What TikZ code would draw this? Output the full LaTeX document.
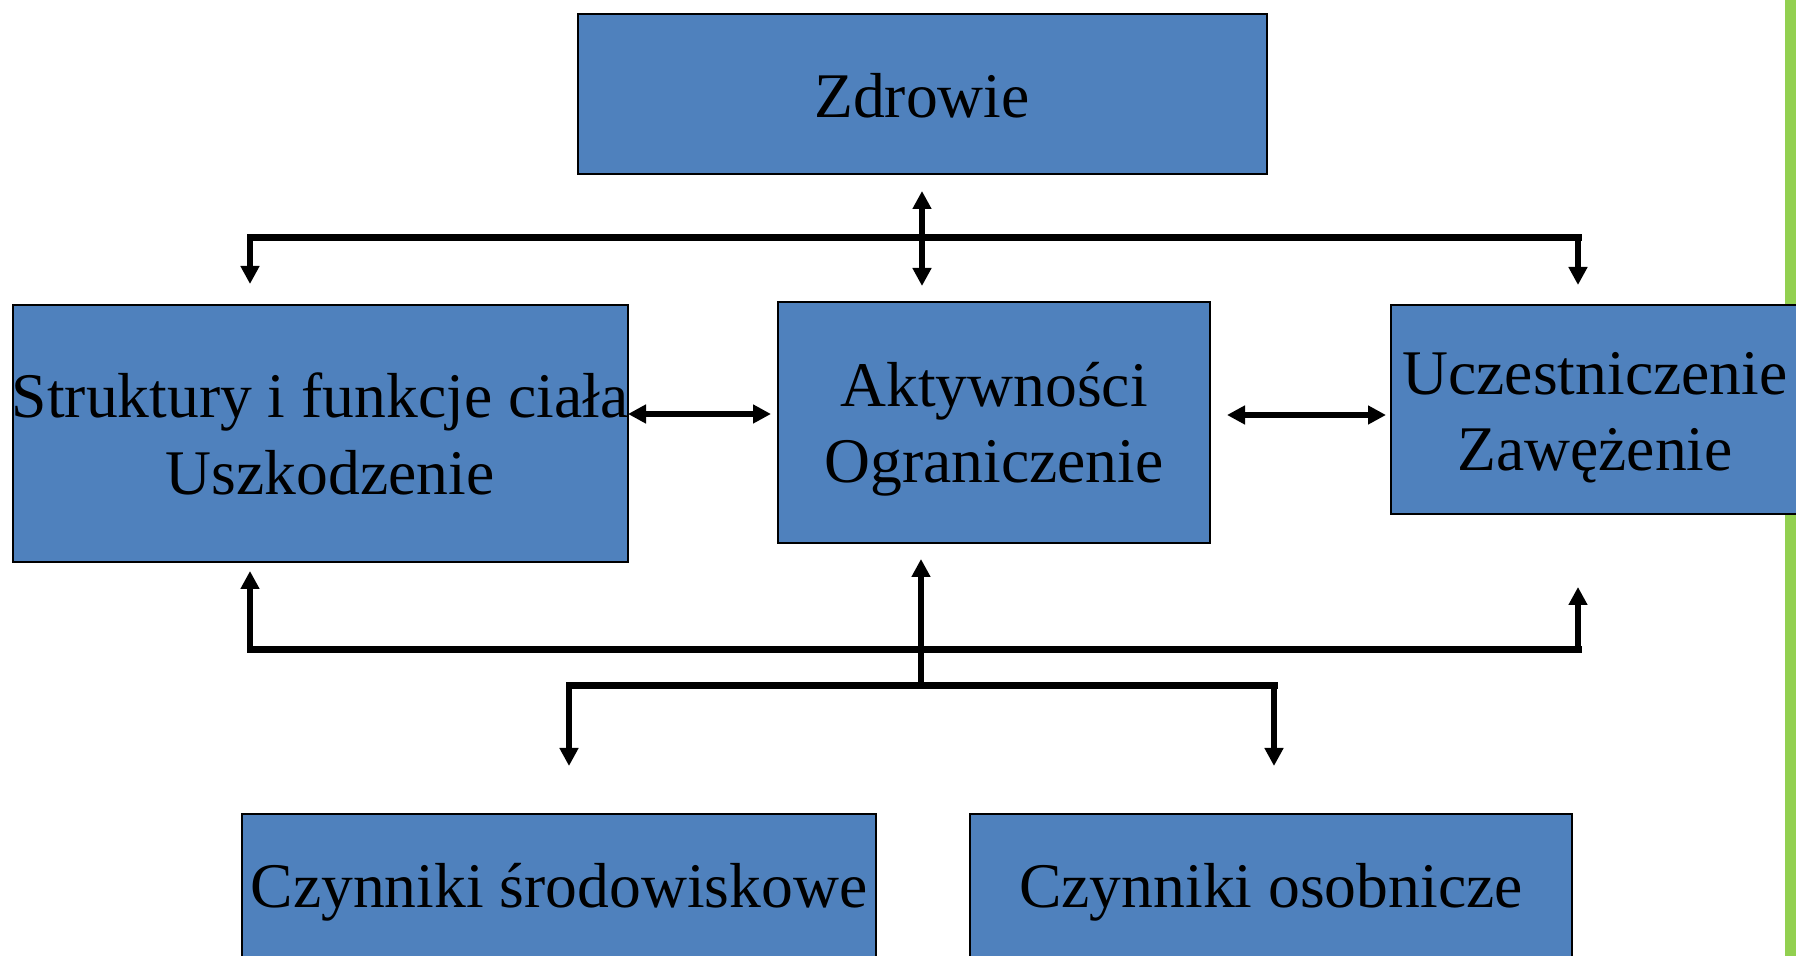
\documentclass[tikz,border=0pt]{standalone}
\usepackage{fontspec}
\setmainfont{Liberation Serif}
\usetikzlibrary{arrows.meta}
\definecolor{boxblue}{HTML}{4F81BD}
\definecolor{sidegreen}{HTML}{92D050}
\tikzset{
  box/.style={rectangle, draw=black, fill=boxblue, line width=0.75pt, inner sep=0pt},
  lbl/.style={anchor=base, inner sep=0pt, font=\fontsize{31.8}{38}\selectfont},
  bus/.style={line width=3.5pt, line cap=rect},
  stem/.style={line width=2.6pt},
  tipA/.style={-{Triangle[length=9pt,width=9pt]}},
  tipB/.style={{Triangle[length=9pt,width=9pt]}-{Triangle[length=9pt,width=9pt]}}
}
\begin{document}
\begin{tikzpicture}[x=0.5pt,y=-0.5pt]
\useasboundingbox (0,0) rectangle (1796,956);
\clip (0,0) rectangle (1796,956);
\fill[white] (0,0) rectangle (1796,956);
% green side bar
\fill[sidegreen] (1785,0) rectangle (1800,956);

% boxes
\node[box, minimum width=344.5pt, minimum height=80pt] (zd) at (922.5,94) {};
\node[box, minimum width=307.5pt, minimum height=128.5pt] (st) at (320.5,433.5) {};
\node[box, minimum width=216pt, minimum height=120.5pt] (ak) at (994,422.5) {};
\node[box, minimum width=204.5pt, minimum height=104.5pt] (uc) at (1595.5,409.5) {};
\node[box, minimum width=317pt, minimum height=72pt] (cs) at (559,886) {};
\node[box, minimum width=301pt, minimum height=72pt] (co) at (1271,886) {};

% labels
\node[lbl] (zdT) at (922,118) {Zdrowie};
\node[lbl] (st1) at (320,418) {Struktury i funkcje ciała};
\node[lbl] (st2) at (330,495) {Uszkodzenie};
\node[lbl] (ak1) at (994,407) {Aktywności};
\node[lbl] (ak2) at (994,483) {Ograniczenie};
\node[lbl] (uc1) at (1595,395) {Uczestniczenie};
\node[lbl] (uc2) at (1595,471) {Zawężenie};
\node[lbl] (cs1) at (559,908) {Czynniki środowiskowe};
\node[lbl] (co1) at (1271,908) {Czynniki osobnicze};

% connector points
\coordinate (tL) at (250,238);
\coordinate (tR) at (1578,238);
\coordinate (tLe) at (250,284);
\coordinate (tRe) at (1578,285);
\coordinate (zdE) at (922,191);
\coordinate (akE) at (922,286);
\coordinate (stE) at (628,414);
\coordinate (akW) at (771,414);
\coordinate (akEe) at (1227,415);
\coordinate (ucW) at (1386,415);
\coordinate (bL) at (250,650);
\coordinate (bR) at (1578,650);
\coordinate (bLe) at (250,571);
\coordinate (bRe) at (1578,587);
\coordinate (bM) at (921,686);
\coordinate (bMe) at (921,559);
\coordinate (lL) at (569,686);
\coordinate (lR) at (1274,686);
\coordinate (lLe) at (569,766);
\coordinate (lRe) at (1274,766);

% top bus
\draw[stem,tipA] (tL) -- (tLe);
\draw[stem,tipA] (tR) -- (tRe);
\draw[bus] (tL) -- (tR);
\draw[stem,tipB] (zdE) -- (akE);

% horizontal double arrows
\draw[stem,tipB] (stE) -- (akW);
\draw[stem,tipB] (akEe) -- (ucW);

% bottom bus
\draw[stem,tipA] (bL) -- (bLe);
\draw[stem,tipA] (bR) -- (bRe);
\draw[stem,tipA] (bM) -- (bMe);
\draw[bus] (bL) -- (bR);
\draw[stem,tipA] (lL) -- (lLe);
\draw[stem,tipA] (lR) -- (lRe);
\draw[bus] (lL) -- (lR);
\end{tikzpicture}
\end{document}
